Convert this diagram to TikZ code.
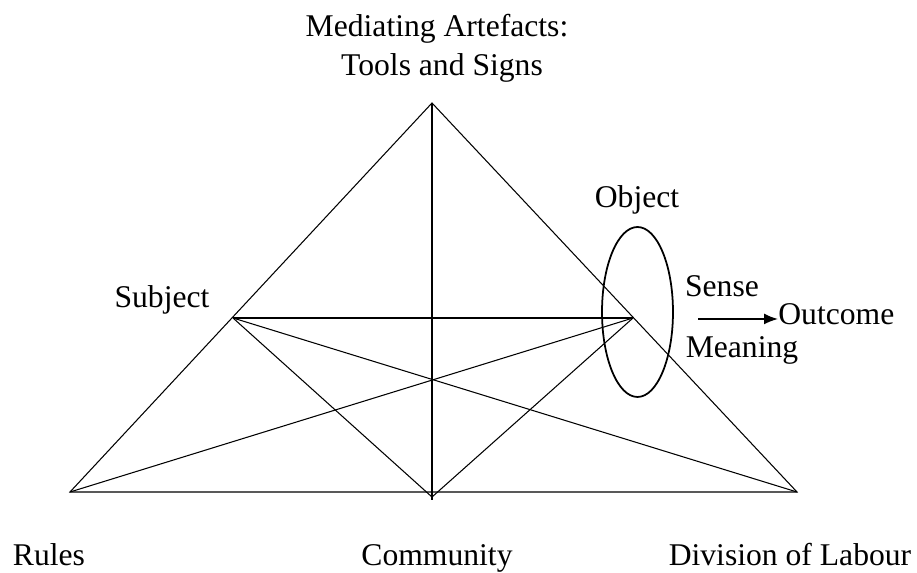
\documentclass[tikz,border=0pt]{standalone}
\usepackage{fontspec}
\setmainfont{Liberation Serif}
\usepackage{tikz}
\usetikzlibrary{shapes.geometric, arrows.meta, positioning, calc}

\begin{document}
\begin{tikzpicture}[
  x=0.02cm, y=-0.02cm,
  font=\fontsize{18}{21}\selectfont,
  lbl/.style={inner sep=0pt, anchor=base},
  edge/.style={draw=black, line width=0.6pt},
  arr/.style={-{Latex[length=2.8mm,width=2.2mm]}, draw=black, line width=0.9pt},
]
\useasboundingbox (0,0) rectangle (917,573);

% corners of the activity triangle
\coordinate (tool) at (432,103);
\coordinate (subj) at (233,318);
\coordinate (obj) at (633,318);
\coordinate (rules) at (70,492);
\coordinate (comm) at (432,497);
\coordinate (div) at (797,492);

\node[lbl] (toollbl) at (437,37) {Mediating Artefacts:};
\node[lbl] (signlbl) at (442,76) {Tools and Signs};
\node[lbl] (subjlbl) at (162,308) {Subject};
\node[lbl] (objlbl) at (637,208) {Object};
\node[lbl] (sense) at (722,297) {Sense};
\node[lbl] (meaning) at (742,358) {Meaning};
\node[lbl, anchor=base west] (outcome) at (778,325) {Outcome};
\node[lbl] (ruleslbl) at (49,566) {Rules};
\node[lbl] (commlbl) at (437,566) {Community};
\node[lbl] (divlbl) at (790,566) {Division of Labour};

\draw[edge] (rules) -- (tool) -- (div) -- cycle;
\draw[edge] (tool) -- (432,500);
\draw[edge, line width=1.2pt] (subj) -- (obj);
\draw[edge] (subj) -- (div);
\draw[edge] (subj) -- (comm);
\draw[edge] (obj) -- (rules);
\draw[edge] (obj) -- (comm);

\node[draw, ellipse, line width=1pt, inner sep=0pt,
      minimum width=1.42cm, minimum height=3.4cm] (objring) at (637.5,312) {};

\coordinate (arrstart) at (698,319);
\draw[arr] (arrstart) -- (outcome.west |- arrstart);
\end{tikzpicture}
\end{document}
